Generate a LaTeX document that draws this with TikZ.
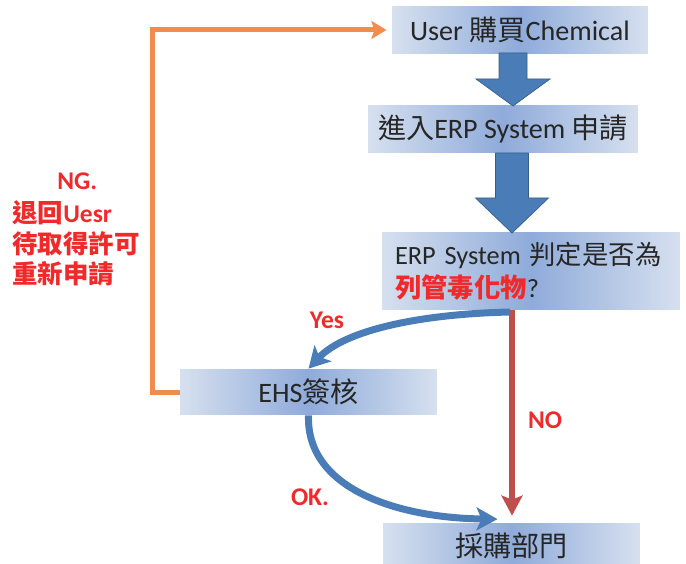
\documentclass[tikz,border=0pt]{standalone}
\usepackage{fontspec}
\setmainfont{Carlito}
\newfontfamily\cjk{Noto Sans CJK TC}
\usetikzlibrary{arrows.meta}

\definecolor{boxEdge}{HTML}{D6E0EF}
\definecolor{boxMid}{HTML}{8FABDA}
\definecolor{flowBlue}{HTML}{4A7DB8}
\definecolor{flowRed}{HTML}{BF4F4D}
\definecolor{flowOrange}{HTML}{F08C4C}
\definecolor{labelRed}{HTML}{F02A2A}

\newcommand{\zh}[1]{{\cjk #1}}
% block arrow: x, top, start of head, tip, half shaft, half head
\newcommand{\blockarrow}[6]{%
  \filldraw[fill=flowBlue,draw=flowBlue!75!black,line width=0.4pt]
    (#1-#5,#2) -- (#1+#5,#2) -- (#1+#5,#3) -- (#1+#6,#3) -- (#1,#4)
    -- (#1-#6,#3) -- (#1-#5,#3) -- cycle;}

\tikzset{
  stepbox/.style={left color=boxEdge,right color=boxEdge,middle color=boxMid,
    minimum width=#1,minimum height=0.94cm,inner sep=0pt,text=black!85,
    font=\fontsize{16}{19}\selectfont},
  lab/.style={text=labelRed,font=\bfseries\fontsize{14.5}{16.8}\selectfont},
  flow/.style={line width=0.14cm,flowBlue,-{Stealth[length=0.42cm,width=0.46cm,inset=0.1cm]}},
}

\begin{document}
\begin{tikzpicture}[x=0.02cm,y=-0.02cm]
\useasboundingbox (0,0) rectangle (686,564);

\node[stepbox=5.12cm] (user) at (520,30) {User \zh{購買}Chemical};
\node[stepbox=5.4cm] (erp) at (503,129) {\zh{進入}ERP System \zh{申請}};
\node[stepbox=5.96cm,minimum height=1.56cm,text width=5.44cm,inner xsep=0.26cm,
  align=left,font=\fontsize{15}{18.8}\selectfont] (judge) at (531,271)
  {ERP System \zh{判定是否為}\\{\color{labelRed}\bfseries\zh{列管毒化物}}?};
\node[stepbox=5.14cm,minimum height=0.92cm] (ehs) at (308.5,392) {EHS\zh{簽核}};
\node[stepbox=5.14cm,minimum height=0.9cm] (buy) at (511.5,545.5) {\zh{採購部門}};

\blockarrow{513}{53}{79}{106}{14}{37}
\blockarrow{512}{153}{198}{233}{16.5}{36.5}

% NG path back to user
\coordinate (ngcorner) at (152,30);
\draw[line width=0.1cm,flowOrange,-{Stealth[length=0.3cm,width=0.36cm,inset=0.06cm]}]
  (ehs.west) -| (ngcorner) -- ([xshift=-3pt]user.west);

% NO path
\coordinate (nostart) at (512,310);
\draw[line width=0.13cm,flowRed,-{Stealth[length=0.4cm,width=0.42cm,inset=0.08cm]}]
  (nostart) -- ([yshift=4pt]nostart |- buy.north);

\draw[flow] (510,312) .. controls (420,314) and (345,330) .. (ehs.north);
\draw[flow] (ehs.south) .. controls (306,490) and (400,518) .. ([xshift=-0.28cm,yshift=2pt]buy.north);

\node[lab] (yes) at (327,320) {Yes};
\node[lab] (no) at (545,420) {NO};
\node[lab] (ok) at (310,497) {OK.};
\node[lab,align=left,anchor=north west,inner sep=0pt,
  font=\bfseries\fontsize{14.5}{17.2}\selectfont] (ng) at (12,172)
  {\hspace{0.9cm}NG.\\[2pt]\zh{退回}Uesr\\\zh{待取得許可}\\\zh{重新申請}};
\end{tikzpicture}
\end{document}
